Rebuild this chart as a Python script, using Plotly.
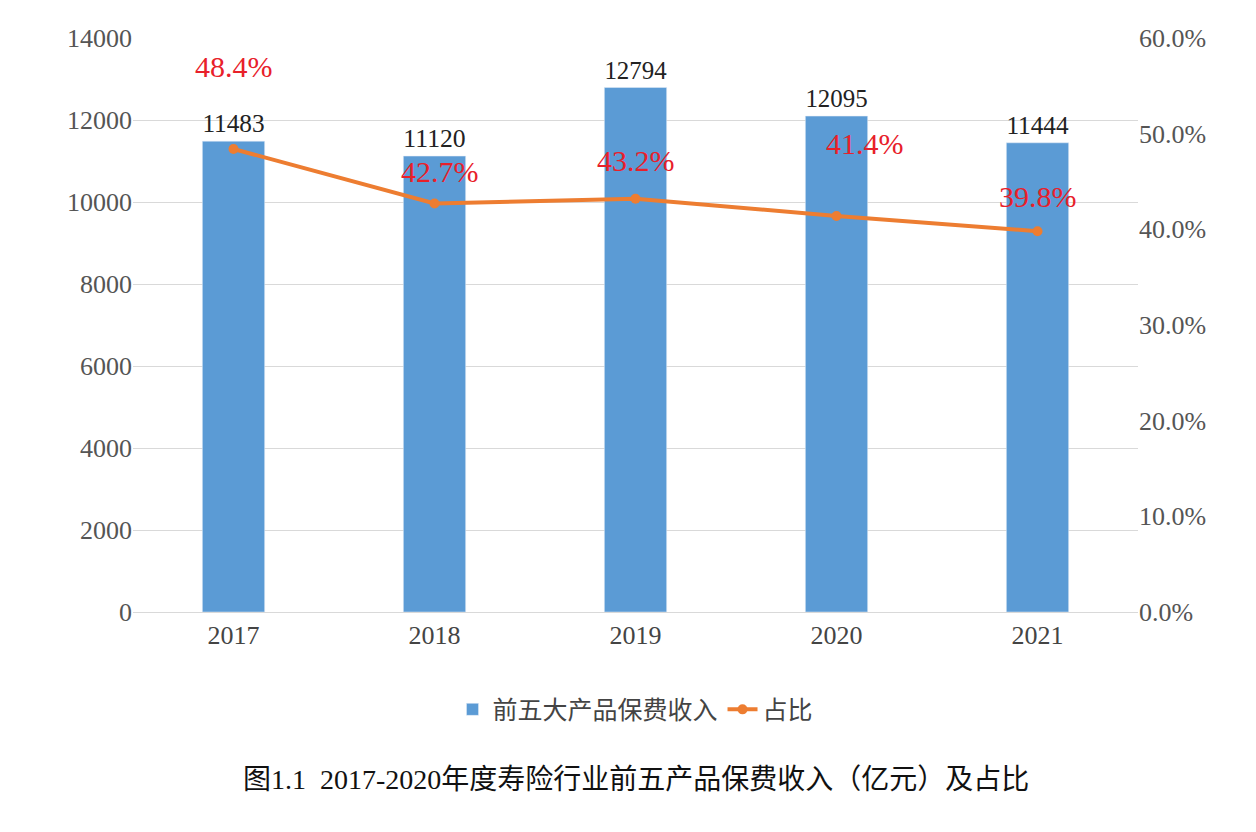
import plotly.graph_objects as go

years = ["2017", "2018", "2019", "2020", "2021"]
premium = [11483, 11120, 12794, 12095, 11444]
share = [48.4, 42.7, 43.2, 41.4, 39.8]
share_labels = ["48.4%", "42.7%", "43.2%", "41.4%", "39.8%"]

xs = list(range(len(years)))
serif = "Liberation Serif, Times New Roman, serif"
fig = go.Figure()
fig.add_trace(go.Bar(x=xs, y=premium, name="前五大产品保费收入", marker_color="#5b9bd5",
                     width=0.31, text=[str(v) for v in premium], textposition="outside",
                     textfont=dict(family=serif, size=26, color="#222"), cliponaxis=False))
fig.add_trace(go.Scatter(x=xs, y=share, name="占比", yaxis="y2", mode="lines+markers",
                         line=dict(color="#ed7d31", width=4), marker=dict(size=10, color="#ed7d31"),
                         cliponaxis=False))
for i, (x, s, lab) in enumerate(zip(xs, share, share_labels)):
    fig.add_annotation(x=x, y=s, xref="x", yref="y2", text=lab, showarrow=False,
                       yshift=[82, 32, 38, 72, 35][i], xshift=[0, 5, 0, 28, 0][i],
                       font=dict(family=serif, size=30, color="#e8202a"))
fig.update_layout(
    width=1256, height=832, margin=dict(l=125, r=126, t=30, b=228),
    plot_bgcolor="white", paper_bgcolor="white",
    font=dict(family=serif, size=26, color="#555"),
    xaxis=dict(range=[-0.5, 4.5], tickvals=xs, ticktext=years, showline=True, linecolor="#d9d9d9",
               showgrid=False, zeroline=False, tickfont=dict(size=26, color="#444")),
    yaxis=dict(range=[0, 14000], dtick=2000, tickformat="d", gridcolor="#d9d9d9", zeroline=False,
               tickfont=dict(size=26, color="#555")),
    yaxis2=dict(range=[0, 60], dtick=10, overlaying="y", side="right", showgrid=False,
                ticksuffix="%", tickformat=".1f", tickfont=dict(size=26, color="#555")),
    legend=dict(orientation="h", x=0.5, xanchor="center", y=-0.13, yanchor="top",
                font=dict(family="Noto Sans CJK SC", size=25, color="#444")),
    showlegend=True,
)
fig.add_annotation(text="图1.1  2017-2020年度寿险行业前五产品保费收入（亿元）及占比", xref="paper", yref="paper",
                   x=0.5, y=-0.322, showarrow=False,
                   font=dict(family="Liberation Serif, Noto Sans CJK SC", size=28, color="#111"))
fig.write_html("out.html")
